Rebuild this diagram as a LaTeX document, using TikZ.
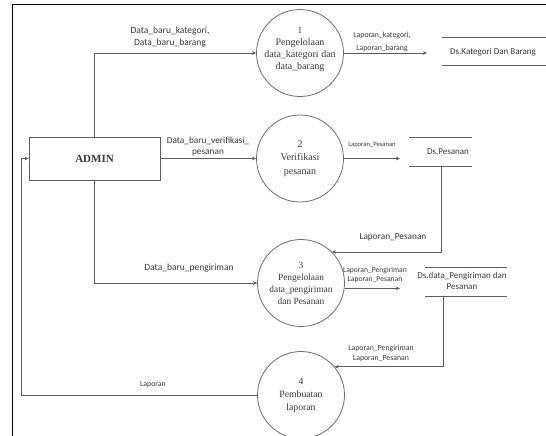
\documentclass[tikz,border=0pt]{standalone}
\usepackage{fontspec}
\setmainfont{Liberation Serif}
\setsansfont{Carlito}
\usetikzlibrary{arrows.meta,calc}
\definecolor{ink}{HTML}{5C5C5C}
\definecolor{rim}{HTML}{6E6E6E}
\definecolor{txt}{HTML}{3A3A3A}
\newcommand{\fs}[2]{\fontsize{#1}{#2}\selectfont}
\begin{document}
\begin{tikzpicture}[x=1pt,y=-1pt,
  proc/.style={circle,draw=rim,line width=0.8pt,minimum size=87pt,inner sep=0pt,
    align=center,text=txt},
  conn/.style={draw=ink,line width=0.8pt,-{Stealth[length=4pt,width=3.6pt]}},
  lbl/.style={font=\sffamily,align=center,text=txt,inner sep=0pt},
  storetxt/.style={font=\sffamily\fs{9}{11},align=center,text=txt,inner sep=0pt},
  storeline/.style={draw=ink,line width=0.8pt}]
\useasboundingbox (0,0) rectangle (546,436);
\fill[white] (0,0) rectangle (546,436);

% page frame
\draw[line width=1.4pt] (12.7,436) -- (12.7,4.6) -- (546,4.6);

% external entity
\node[draw=ink,line width=0.8pt,minimum width=131pt,minimum height=43pt,
  font=\bfseries\fs{11}{13},text=txt] (admin) at (94.5,158.5) {ADMIN};

% processes
\node[proc] (p1) at (300,53)
  {\fs{9.3}{9.6}1\\Pengelolaan\\data\_kategori dan\\data\_barang\vspace{6pt}};
\node[proc,font=\fs{10}{13.5}] (p2) at (300,158.5)
  {2\\Verifikasi\\pesanan};
\node[proc,font=\fs{9.4}{12}] (p3) at (301,283)
  {3\\Pengelolaan\\data\_pengiriman\\dan Pesanan};
\node[proc,font=\fs{9.7}{13}] (p4) at (301,395)
  {4\\Pembuatan\\laporan};

% data stores
\node[storetxt] (s1) at (493,52) {Ds.Kategori Dan Barang};
\draw[storeline] ($(s1.center)+(-51,-15)$) -- ++(104,0)
                 ($(s1.center)+(-51,13)$) -- ++(104,0);
\node[storetxt] (s2) at (448,152) {Ds.Pesanan};
\draw[storeline] ($(s2.center)+(-39,-15)$) -- ++(63,0)
                 ($(s2.center)+(-39,14)$) -- ++(63,0);
\coordinate (s2foot) at (441,166);
\node[storetxt] (s3) at (462,281) {Ds.data\_Pengiriman dan\\Pesanan};
\draw[storeline] ($(s3.center)+(-37,-14)$) -- ++(82,0)
                 ($(s3.center)+(-37,15)$) -- ++(82,0);
\coordinate (s3foot) at (443,296);

% free ends of the report flows
\coordinate (e1) at (427,53);
\coordinate (e2) at (400,158.5);
\coordinate (e3) at (400,288);
\coordinate (back) at (21,395);

% flows
\draw[conn] (admin.north) |- (p1.west);
\draw[conn] (admin.east) -- (p2.west);
\draw[conn] (admin.south) |- (p3.west);
\draw[conn] (p1.east) -- (e1);
\draw[conn] (p2.east) -- (e2);
\draw[conn] (s2foot) |- (p3.45);
\draw[conn] (p3.-7) -- (p3.-7 -| e3);
\draw[conn] (s3foot) |- (p4.40);
\draw[conn] (p4.west) -- (back) |- (admin.west);

% flow labels
\node[lbl,font=\sffamily\fs{9.5}{12}] at (170,37) {Data\_baru\_kategori,\\Data\_baru\_barang};
\node[lbl,font=\sffamily\fs{7.8}{13}] at (382,41.5) {Laporan\_kategori,\\Laporan\_barang};
\node[lbl,font=\sffamily\fs{9.3}{11}] at (208,146.5) {Data\_baru\_verifikasi\_\\pesanan};
\node[lbl,font=\sffamily\fs{6.6}{8}] at (372,145) {Laporan\_Pesanan};
\node[lbl,font=\sffamily\fs{9.3}{11}] at (393,237) {Laporan\_Pesanan};
\node[lbl,font=\sffamily\fs{9.5}{11}] at (189,268) {Data\_baru\_pengiriman};
\node[lbl,font=\sffamily\fs{7.6}{9}] at (375,274.5) {Laporan\_Pengiriman\\Laporan\_Pesanan};
\node[lbl,font=\sffamily\fs{7.8}{10}] at (381,353) {Laporan\_Pengiriman\\Laporan\_Pesanan};
\node[lbl,font=\sffamily\fs{7.8}{10}] at (153,385) {Laporan};
\end{tikzpicture}
\end{document}
